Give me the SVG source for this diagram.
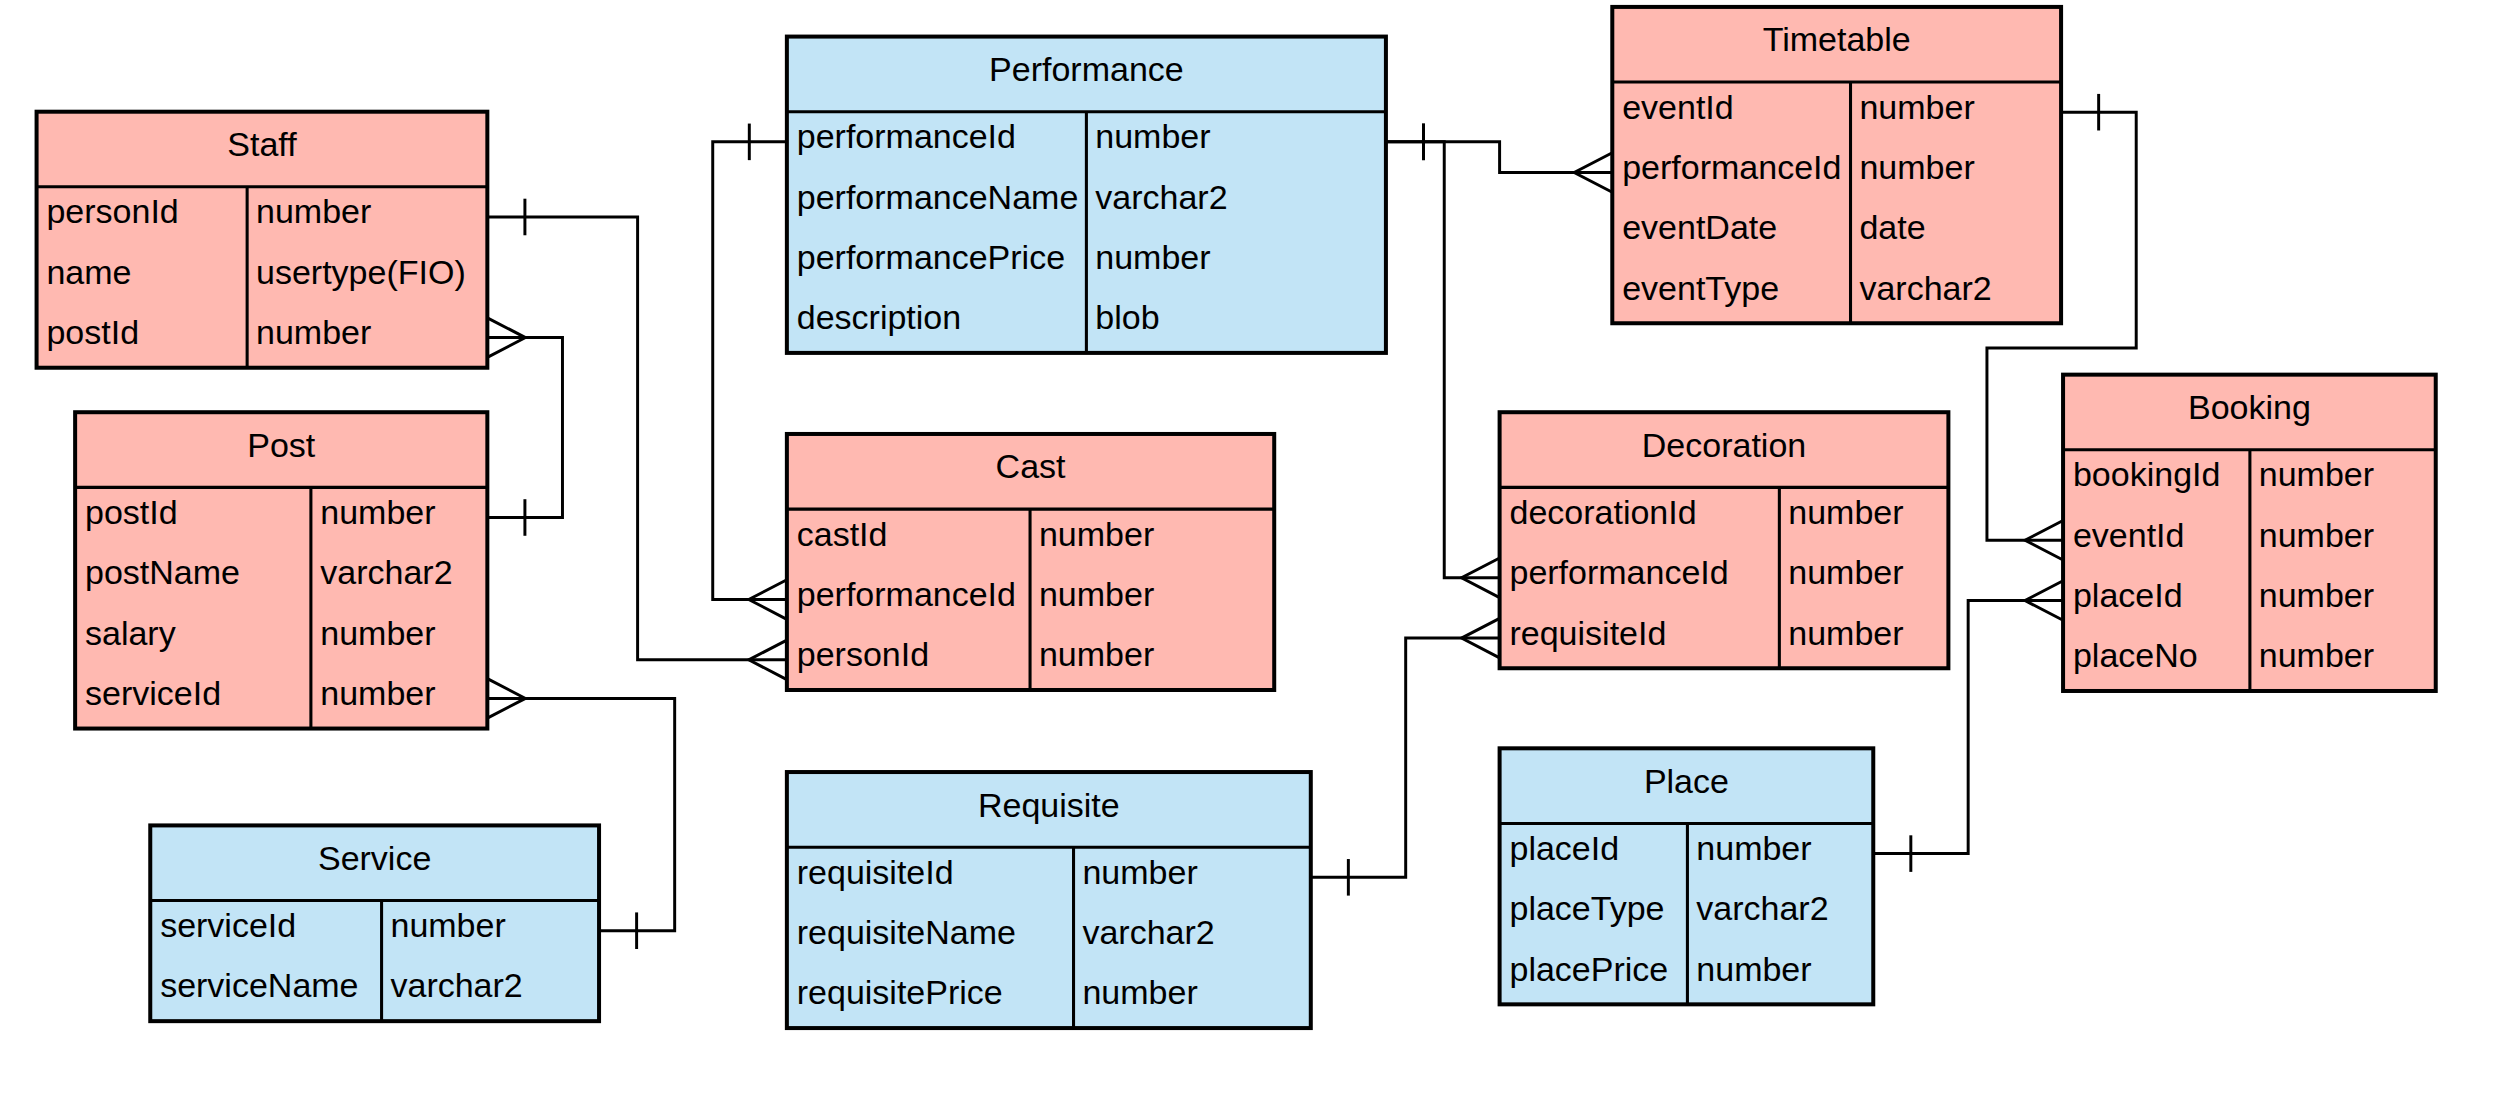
<svg xmlns="http://www.w3.org/2000/svg" width="2513" height="1103" viewBox="0 0 2513 1103">
<style>
.box{stroke:#000;stroke-width:4.05}
.pink{fill:#FFB9B1}
.blue{fill:#C2E4F6}
.sep{stroke:#000;stroke-width:3.1}
.t{font-family:"Liberation Sans",Arial,sans-serif;font-size:34.4px;fill:#000}
.h{text-anchor:middle}
.ln{stroke:#000;stroke-width:3;fill:none}
.mk{stroke:#000;stroke-width:3;fill:none}
</style>
<defs>
<marker id="one" markerUnits="userSpaceOnUse" orient="auto" refX="0" refY="0" markerWidth="60" markerHeight="60" overflow="visible">
<path class="mk" d="M38,-18.5 V18.5"/>
</marker>
<marker id="many" markerUnits="userSpaceOnUse" orient="auto" refX="0" refY="0" markerWidth="60" markerHeight="60" overflow="visible">
<path class="mk" d="M0,-20 L-38.5,0 L0,20"/>
</marker>
</defs>
<rect width="2513" height="1103" fill="#fff"/>
<g id="diagram" transform="scale(0.98853)">
<g id="connectors">
<path class="ln" marker-start="url(#one)" marker-end="url(#many)" d="M493,219.5 H645 V667.5 H796"/>
<path class="ln" marker-start="url(#one)" marker-end="url(#many)" d="M493,523.5 H569 V341.5 H493"/>
<path class="ln" marker-start="url(#one)" marker-end="url(#many)" d="M606,941.5 H682.5 V706.5 H493"/>
<path class="ln" marker-start="url(#one)" marker-end="url(#many)" d="M796,143.5 H721 V606.5 H796"/>
<path class="ln" marker-start="url(#one)" marker-end="url(#many)" d="M1402,143.5 H1517 V174.5 H1631"/>
<path class="ln" marker-start="url(#one)" marker-end="url(#many)" d="M1402,143.5 H1461 V584.5 H1517"/>
<path class="ln" marker-start="url(#one)" marker-end="url(#many)" d="M2085,113.5 H2161 V352 H2010 V546.5 H2087"/>
<path class="ln" marker-start="url(#one)" marker-end="url(#many)" d="M1326,887.5 H1422 V645.5 H1517"/>
<path class="ln" marker-start="url(#one)" marker-end="url(#many)" d="M1895,863.5 H1991 V607.5 H2087"/>
</g>
<g id="staff">
<rect class="box pink" x="37" y="113" width="456" height="259"/>
<line class="sep" x1="37" y1="189" x2="493" y2="189"/>
<line class="sep" x1="250" y1="189" x2="250" y2="372"/>
<text class="t h" x="265" y="158">Staff</text>
<text class="t" x="47" y="226">personId</text><text class="t" x="259" y="226">number</text>
<text class="t" x="47" y="287">name</text><text class="t" x="259" y="287">usertype(FIO)</text>
<text class="t" x="47" y="348">postId</text><text class="t" x="259" y="348">number</text>
</g>
<g id="post">
<rect class="box pink" x="76" y="417" width="417" height="320"/>
<line class="sep" x1="76" y1="493" x2="493" y2="493"/>
<line class="sep" x1="314.5" y1="493" x2="314.5" y2="737"/>
<text class="t h" x="284.5" y="462">Post</text>
<text class="t" x="86" y="530">postId</text><text class="t" x="324" y="530">number</text>
<text class="t" x="86" y="591">postName</text><text class="t" x="324" y="591">varchar2</text>
<text class="t" x="86" y="652">salary</text><text class="t" x="324" y="652">number</text>
<text class="t" x="86" y="713">serviceId</text><text class="t" x="324" y="713">number</text>
</g>
<g id="service">
<rect class="box blue" x="152" y="835" width="454" height="198"/>
<line class="sep" x1="152" y1="911" x2="606" y2="911"/>
<line class="sep" x1="386" y1="911" x2="386" y2="1033"/>
<text class="t h" x="379" y="880">Service</text>
<text class="t" x="162" y="948">serviceId</text><text class="t" x="395" y="948">number</text>
<text class="t" x="162" y="1009">serviceName</text><text class="t" x="395" y="1009">varchar2</text>
</g>
<g id="performance">
<rect class="box blue" x="796" y="37" width="606" height="320"/>
<line class="sep" x1="796" y1="113" x2="1402" y2="113"/>
<line class="sep" x1="1099" y1="113" x2="1099" y2="357"/>
<text class="t h" x="1099" y="82">Performance</text>
<text class="t" x="806" y="150">performanceId</text><text class="t" x="1108" y="150">number</text>
<text class="t" x="806" y="211">performanceName</text><text class="t" x="1108" y="211">varchar2</text>
<text class="t" x="806" y="272">performancePrice</text><text class="t" x="1108" y="272">number</text>
<text class="t" x="806" y="333">description</text><text class="t" x="1108" y="333">blob</text>
</g>
<g id="cast">
<rect class="box pink" x="796" y="439" width="493" height="259"/>
<line class="sep" x1="796" y1="515" x2="1289" y2="515"/>
<line class="sep" x1="1042" y1="515" x2="1042" y2="698"/>
<text class="t h" x="1042.5" y="484">Cast</text>
<text class="t" x="806" y="552">castId</text><text class="t" x="1051" y="552">number</text>
<text class="t" x="806" y="613">performanceId</text><text class="t" x="1051" y="613">number</text>
<text class="t" x="806" y="674">personId</text><text class="t" x="1051" y="674">number</text>
</g>
<g id="requisite">
<rect class="box blue" x="796" y="781" width="530" height="259"/>
<line class="sep" x1="796" y1="857" x2="1326" y2="857"/>
<line class="sep" x1="1086" y1="857" x2="1086" y2="1040"/>
<text class="t h" x="1061" y="826">Requisite</text>
<text class="t" x="806" y="894">requisiteId</text><text class="t" x="1095" y="894">number</text>
<text class="t" x="806" y="955">requisiteName</text><text class="t" x="1095" y="955">varchar2</text>
<text class="t" x="806" y="1016">requisitePrice</text><text class="t" x="1095" y="1016">number</text>
</g>
<g id="timetable">
<rect class="box pink" x="1631" y="7" width="454" height="320"/>
<line class="sep" x1="1631" y1="83" x2="2085" y2="83"/>
<line class="sep" x1="1872" y1="83" x2="1872" y2="327"/>
<text class="t h" x="1858" y="52">Timetable</text>
<text class="t" x="1641" y="120">eventId</text><text class="t" x="1881" y="120">number</text>
<text class="t" x="1641" y="181">performanceId</text><text class="t" x="1881" y="181">number</text>
<text class="t" x="1641" y="242">eventDate</text><text class="t" x="1881" y="242">date</text>
<text class="t" x="1641" y="303">eventType</text><text class="t" x="1881" y="303">varchar2</text>
</g>
<g id="decoration">
<rect class="box pink" x="1517" y="417" width="454" height="259"/>
<line class="sep" x1="1517" y1="493" x2="1971" y2="493"/>
<line class="sep" x1="1800" y1="493" x2="1800" y2="676"/>
<text class="t h" x="1744" y="462">Decoration</text>
<text class="t" x="1527" y="530">decorationId</text><text class="t" x="1809" y="530">number</text>
<text class="t" x="1527" y="591">performanceId</text><text class="t" x="1809" y="591">number</text>
<text class="t" x="1527" y="652">requisiteId</text><text class="t" x="1809" y="652">number</text>
</g>
<g id="place">
<rect class="box blue" x="1517" y="757" width="378" height="259"/>
<line class="sep" x1="1517" y1="833" x2="1895" y2="833"/>
<line class="sep" x1="1707" y1="833" x2="1707" y2="1016"/>
<text class="t h" x="1706" y="802">Place</text>
<text class="t" x="1527" y="870">placeId</text><text class="t" x="1716" y="870">number</text>
<text class="t" x="1527" y="931">placeType</text><text class="t" x="1716" y="931">varchar2</text>
<text class="t" x="1527" y="992">placePrice</text><text class="t" x="1716" y="992">number</text>
</g>
<g id="booking">
<rect class="box pink" x="2087" y="379" width="377" height="320"/>
<line class="sep" x1="2087" y1="455" x2="2464" y2="455"/>
<line class="sep" x1="2276" y1="455" x2="2276" y2="699"/>
<text class="t h" x="2275.5" y="424">Booking</text>
<text class="t" x="2097" y="492">bookingId</text><text class="t" x="2285" y="492">number</text>
<text class="t" x="2097" y="553">eventId</text><text class="t" x="2285" y="553">number</text>
<text class="t" x="2097" y="614">placeId</text><text class="t" x="2285" y="614">number</text>
<text class="t" x="2097" y="675">placeNo</text><text class="t" x="2285" y="675">number</text>
</g>
</g>
</svg>
